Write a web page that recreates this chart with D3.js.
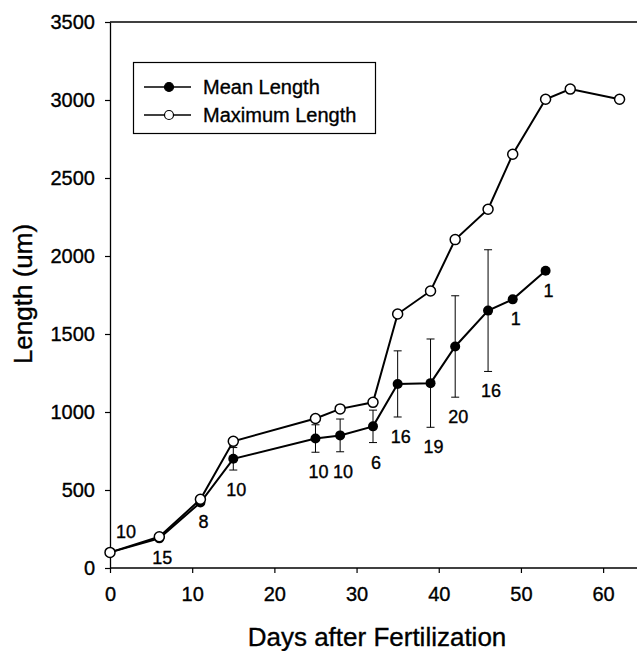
<!DOCTYPE html>
<html>
<head>
<meta charset="utf-8">
<script src="https://cdn.jsdelivr.net/npm/d3@7"></script>
<style>
  html, body { margin: 0; padding: 0; background: #fff; }
  svg { display: block; font-family: "Liberation Sans", Arial, sans-serif; }
  svg text { stroke: #000; stroke-width: 0.35px; }
</style>
</head>
<body>
<svg id="chart" width="638" height="651"></svg>
<script>
// ---- data ----
const days      = [0, 6, 11, 15, 25, 28, 32, 35, 39, 42, 46, 49, 53];
const meanLen   = [100, 190, 420, 700, 830, 850, 908, 1180, 1185, 1420, 1650, 1722, 1906];
const meanSD    = [0, 0, 0, 72, 88, 105, 104, 212, 283, 325, 390, 0, 0];
const nLabels   = ["10", "15", "8", "10", "10", "10", "6", "16", "19", "20", "16", "1", "1"];
const maxDays   = [0, 6, 11, 15, 25, 28, 32, 35, 39, 42, 46, 49, 53, 56, 62];
const maxLen    = [100, 200, 440, 812, 958, 1020, 1062, 1628, 1776, 2105, 2300, 2652, 3005, 3070, 3005];
const xTicks    = [0, 10, 20, 30, 40, 50, 60];
const yTicks    = [0, 500, 1000, 1500, 2000, 2500, 3000, 3500];
const seriesNames = ["Mean Length", "Maximum Length"];

// ---- layout ----
const svg = d3.select("#chart");
const L = 110, R = 636, T = 22, B = 568;
const x = d3.scaleLinear().domain([0, 64]).range([L, R]);
const y = d3.scaleLinear().domain([0, 3500]).range([B, T]);

// top frame line
svg.append("line").attr("x1", L).attr("x2", 637).attr("y1", T).attr("y2", T)
  .attr("stroke", "#000").attr("stroke-width", 1.3);

// axes
const xAxis = svg.append("g").attr("transform", `translate(0,${B})`)
  .call(d3.axisBottom(x).tickValues(xTicks).tickFormat(d3.format("d"))
    .tickSize(5).tickPadding(14).tickSizeOuter(0));
xAxis.select(".domain").attr("d", `M${L},0H637`);
const yAxis = svg.append("g").attr("transform", `translate(${L},0)`)
  .call(d3.axisLeft(y).tickValues(yTicks).tickFormat(d3.format("d"))
    .tickSize(5).tickPadding(10).tickSizeOuter(0));
[xAxis, yAxis].forEach(g => {
  g.selectAll(".domain").attr("stroke", "#000").attr("stroke-width", 1.3);
  g.selectAll(".tick line").attr("stroke", "#000").attr("stroke-width", 1.2);
  g.selectAll("text").attr("font-size", 20).attr("fill", "#000")
    .attr("font-family", "'Liberation Sans', Arial, sans-serif");
});

// axis titles
svg.append("text").attr("x", (L + 600) / 2 + 22).attr("y", 646)
  .attr("text-anchor", "middle").attr("font-size", 26).text("Days after Fertilization");
svg.append("text").attr("transform", `translate(32,${294}) rotate(-90)`)
  .attr("text-anchor", "middle").attr("font-size", 26).text("Length (um)");

// error bars
const meanData = days.map((d, i) => ({ d, v: meanLen[i], sd: meanSD[i], n: nLabels[i] }));
const eb = svg.append("g").attr("stroke", "#000").attr("stroke-width", 1);
meanData.filter(p => p.sd > 0).forEach(p => {
  const cx = x(p.d);
  eb.append("line").attr("x1", cx).attr("x2", cx).attr("y1", y(p.v - p.sd)).attr("y2", y(p.v + p.sd));
  eb.append("line").attr("x1", cx - 4).attr("x2", cx + 4).attr("y1", y(p.v - p.sd)).attr("y2", y(p.v - p.sd));
  eb.append("line").attr("x1", cx - 4).attr("x2", cx + 4).attr("y1", y(p.v + p.sd)).attr("y2", y(p.v + p.sd));
});

const line = d3.line().x(p => x(p.d)).y(p => y(p.v));

// mean series
svg.append("path").datum(meanData).attr("d", line)
  .attr("fill", "none").attr("stroke", "#000").attr("stroke-width", 2);
svg.append("g").selectAll("circle").data(meanData).join("circle")
  .attr("cx", p => x(p.d)).attr("cy", p => y(p.v)).attr("r", 5).attr("fill", "#000");

// max series
const maxData = maxDays.map((d, i) => ({ d, v: maxLen[i] }));
svg.append("path").datum(maxData).attr("d", line)
  .attr("fill", "none").attr("stroke", "#000").attr("stroke-width", 2);
svg.append("g").selectAll("circle").data(maxData).join("circle")
  .attr("cx", p => x(p.d)).attr("cy", p => y(p.v)).attr("r", 5)
  .attr("fill", "#fff").attr("stroke", "#000").attr("stroke-width", 1.5);

// n labels
svg.append("g").selectAll("text").data(meanData).join("text")
  .attr("font-size", 18).attr("text-anchor", "middle")
  .attr("x", (p, i) => i === 0 ? x(p.d) + 16 : x(p.d) + 3)
  .attr("y", (p, i) => i === 0 ? y(p.v) - 14 : y(p.v - p.sd) + 26)
  .text(p => p.n);

// legend
const lg = svg.append("g");
lg.append("rect").attr("x", 133.5).attr("y", 62.5).attr("width", 242).attr("height", 71)
  .attr("fill", "#fff").attr("stroke", "#000").attr("stroke-width", 1.2);
seriesNames.forEach((name, i) => {
  const cy = 87 + i * 28;
  lg.append("line").attr("x1", 144).attr("x2", 191).attr("y1", cy).attr("y2", cy)
    .attr("stroke", "#000").attr("stroke-width", 1.5);
  lg.append("circle").attr("cx", 169).attr("cy", cy).attr("r", 4.5)
    .attr("fill", i === 0 ? "#000" : "#fff").attr("stroke", "#000").attr("stroke-width", 1.2);
  lg.append("text").attr("x", 203).attr("y", cy + 7).attr("font-size", 20).text(name);
});
</script>
</body>
</html>
